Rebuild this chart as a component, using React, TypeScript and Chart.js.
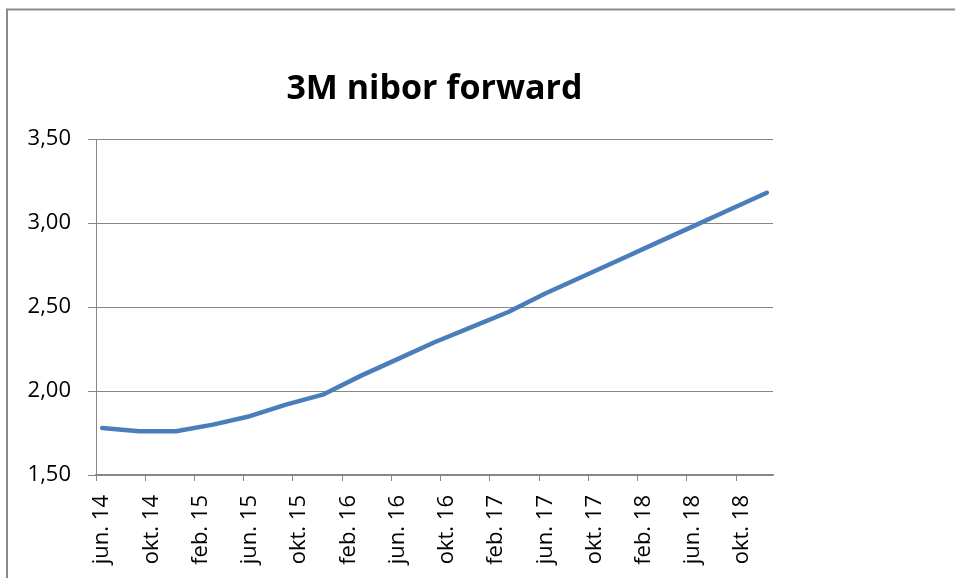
import React, { useEffect, useRef } from "react";
import { Chart, registerables } from "chart.js";

Chart.register(...registerables);

const TITLE = "3M nibor forward";
const MONTH_NAMES = ["jan.", "feb.", "mar.", "apr.", "mai", "jun.", "jul.", "aug.", "sep.", "okt.", "nov.", "des."];
const START_YEAR = 2014;
const START_MONTH_INDEX = 5; // jun.
const MONTH_COUNT = 55; // jun. 14 .. des. 18
const LABEL_EVERY = 4;

const forwardDates = [
  "jun. 14", "sep. 14", "des. 14", "mar. 15", "jun. 15", "sep. 15", "des. 15",
  "mar. 16", "jun. 16", "sep. 16", "des. 16", "mar. 17", "jun. 17", "sep. 17",
  "des. 17", "mar. 18", "jun. 18", "sep. 18", "des. 18",
];
const forwardRates = [
  1.78, 1.76, 1.76, 1.80, 1.85, 1.92, 1.98,
  2.09, 2.19, 2.29, 2.38, 2.47, 2.58, 2.68,
  2.78, 2.88, 2.98, 3.08, 3.18,
];

const Y_MIN = 1.5;
const Y_MAX = 3.5;
const Y_STEP = 0.5;

function buildMonthLabels(): string[] {
  const out: string[] = [];
  for (let i = 0; i < MONTH_COUNT; i++) {
    const m = (START_MONTH_INDEX + i) % 12;
    const y = START_YEAR + Math.floor((START_MONTH_INDEX + i) / 12);
    out.push(`${MONTH_NAMES[m]} ${String(y).slice(2)}`);
  }
  return out;
}

const axisColor = "#878787";
const lineColor = "#4a7ebb";

const framePlugin = {
  id: "frame",
  beforeDraw(chart: any) {
    const ctx = chart.ctx;
    ctx.save();
    ctx.fillStyle = "#ffffff";
    ctx.fillRect(0, 0, chart.width, chart.height);
    ctx.strokeStyle = "#8a8a8a";
    ctx.lineWidth = 2;
    ctx.strokeRect(7, 9.5, chart.width + 20, chart.height + 20);
    ctx.restore();
  },
};

export default function App() {
  const ref = useRef<HTMLCanvasElement | null>(null);

  useEffect(() => {
    if (!ref.current) return;
    const monthLabels = buildMonthLabels();
    const chart = new Chart(ref.current, {
      type: "line",
      data: {
        labels: monthLabels,
        datasets: [
          {
            label: TITLE,
            data: forwardDates.map((d, i) => ({ x: d, y: forwardRates[i] })),
            borderColor: lineColor,
            backgroundColor: lineColor,
            borderWidth: 4.5,
            borderCapStyle: "round",
            borderJoinStyle: "round",
            pointRadius: 0,
            tension: 0,
            fill: false,
          },
        ],
      },
      options: {
        animation: false,
        responsive: false,
        layout: { padding: { top: 68.5, left: 0, right: 182, bottom: 0 } },
        plugins: {
          legend: { display: false },
          tooltip: { enabled: false },
          title: {
            display: true,
            text: TITLE,
            fullSize: false,
            color: "#000000",
            font: { family: "'Open Sans', sans-serif", size: 34, weight: "bold", lineHeight: 1.2 },
            padding: { top: 0, bottom: 29.7 },
          },
        },
        scales: {
          x: {
            type: "category",
            offset: true,
            afterFit: (scale: any) => {
              scale.height = 103;
            },
            grid: {
              offset: true,
              drawOnChartArea: false,
              drawTicks: true,
              tickLength: 6,
              color: (ctx: any) => (ctx.index % LABEL_EVERY === 0 ? axisColor : "rgba(0,0,0,0)"),
              lineWidth: 1,
            },
            border: { display: true, color: axisColor, width: 1.5 },
            ticks: {
              autoSkip: false,
              minRotation: 90,
              maxRotation: 90,
              padding: 14,
              color: "#000000",
              font: { family: "'Open Sans', sans-serif", size: 22 },
              callback: function (this: any, _v: any, index: number) {
                return index % LABEL_EVERY === 0 ? monthLabels[index] : "";
              },
            },
          },
          y: {
            min: Y_MIN,
            max: Y_MAX,
            afterFit: (scale: any) => {
              scale.width = 96;
            },
            grid: {
              color: axisColor,
              lineWidth: 1,
              drawTicks: true,
              tickLength: 8,
            },
            border: { display: true, color: axisColor, width: 1 },
            ticks: {
              stepSize: Y_STEP,
              padding: 17,
              color: "#000000",
              font: { family: "'Open Sans', sans-serif", size: 22 },
              callback: (v: any) => Number(v).toFixed(2).replace(".", ","),
            },
          },
        },
      },
      plugins: [framePlugin],
    });
    return () => chart.destroy();
  }, []);

  return (
    <div style={{ position: "fixed", left: 0, top: 0, width: 955, height: 578, background: "#fff" }}>
      <canvas ref={ref} width={955} height={578} style={{ display: "block" }} />
    </div>
  );
}
